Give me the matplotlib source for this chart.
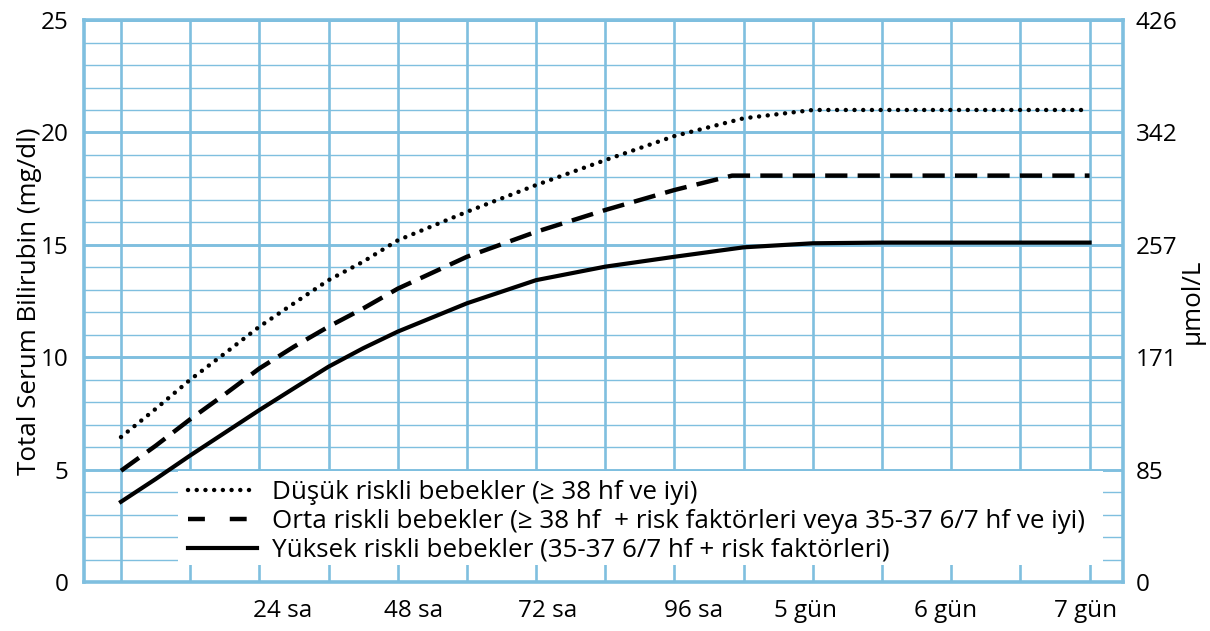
import matplotlib
matplotlib.use('Agg')
import matplotlib.pyplot as plt
from matplotlib.lines import Line2D
from matplotlib.patches import Rectangle

plt.rcParams['font.family'] = ['Open Sans', 'DejaVu Sans']

# hours after birth -> total serum bilirubin (mg/dl)
low_hours = [0, 6, 12, 18, 24, 30, 36, 42, 48, 60, 72, 84, 96, 108, 120, 132, 144, 156, 168]
low_tsb = [6.45, 7.7, 9.0, 10.17, 11.36, 12.4, 13.43, 14.25, 15.2, 16.47, 17.66, 18.77, 19.84, 20.63,
           21.0, 21.0, 21.0, 21.0, 21.0]

mid_hours = [0, 6, 12, 18, 24, 30, 36, 42, 48, 60, 72, 84, 96, 106, 120, 132, 144, 156, 168]
mid_tsb = [4.95, 6.06, 7.24, 8.35, 9.5, 10.47, 11.36, 12.17, 13.05, 14.47, 15.58, 16.55, 17.44, 18.08,
           18.08, 18.08, 18.08, 18.08, 18.08]

high_hours = [0, 6, 12, 18, 24, 30, 36, 42, 48, 60, 72, 84, 96, 108, 120, 132, 144, 156, 168]
high_tsb = [3.57, 4.58, 5.63, 6.64, 7.65, 8.62, 9.58, 10.4, 11.14, 12.4, 13.43, 14.03, 14.47, 14.89,
            15.07, 15.1, 15.1, 15.1, 15.1]

labels = ['Düşük riskli bebekler (≥ 38 hf ve iyi)',
          'Orta riskli bebekler (≥ 38 hf  + risk faktörleri veya 35-37 6/7 hf ve iyi)',
          'Yüksek riskli bebekler (35-37 6/7 hf + risk faktörleri)']

xtick_pos = [28.0, 50.7, 74.0, 99.4, 118.7, 143.1, 167.3]
xtick_labels = ['24 sa', '48 sa', '72 sa', '96 sa', '5 gün', '6 gün', '7 gün']
grid_hours = list(range(0, 169, 12))

mg_ticks = [0, 5, 10, 15, 20, 25]
umol_labels = ['0', '85', '171', '257', '342', '426']

blue = '#7fbfdf'
fs = 17.5
fs_big = 18.7

fig = plt.figure(figsize=(12.1, 6.31), dpi=100)
ax = fig.add_axes([0.0694, 0.0776, 0.8587, 0.8906])

ax.set_xlim(-6.42, 173.8)
ax.set_ylim(0, 25)

# grid
ax.set_axisbelow(True)
ax.set_xticks(grid_hours, minor=True)
ax.set_xticks(xtick_pos)
ax.set_xticklabels(xtick_labels)
ax.set_yticks(mg_ticks)
ax.set_yticks(range(0, 26), minor=True)
ax.xaxis.grid(True, which='minor', color=blue, lw=1.9)
ax.yaxis.grid(True, which='minor', color=blue, lw=1.0)
ax.yaxis.grid(True, which='major', color=blue, lw=2.1)
ax.tick_params(which='both', length=0)
ax.tick_params(axis='y', pad=11, labelsize=fs)
ax.tick_params(axis='x', pad=12, labelsize=fs)
for s in ax.spines.values():
    s.set_color(blue)
    s.set_linewidth(2.6)

# white box behind the legend
ax.add_patch(Rectangle((9.9, 0.75), 160.5, 4.19, facecolor='white', edgecolor='none', zorder=1))

dot_style = dict(color='black', lw=3.2, dashes=(0.01, 1.95), dash_capstyle='round')
dash_style = dict(color='black', lw=3.2, dashes=(5.0, 2.3), dash_capstyle='butt')
ax.plot(low_hours, low_tsb, zorder=3, **dot_style)
ax.plot(mid_hours, mid_tsb, zorder=3, **dash_style)
ax.plot(high_hours, high_tsb, color='black', lw=3.0, zorder=3)

handles = [Line2D([], [], color='black', lw=3.2, dashes=(0.01, 1.95), dash_capstyle='round'),
           Line2D([], [], color='black', lw=3.2, dashes=(3.8, 5.6), dash_capstyle='butt'),
           Line2D([], [], color='black', lw=3.0)]
leg = ax.legend(handles, labels, loc='upper left', bbox_to_anchor=(0.100, 0.1815),
                frameon=False, fontsize=fs_big, handlelength=2.65, handletextpad=0.58,
                labelspacing=0.15, borderpad=0, borderaxespad=0)
leg.set_zorder(4)

ax.set_ylabel('Total Serum Bilirubin (mg/dl)', fontsize=fs_big, labelpad=-1)
ax.set_xlabel('Yaş', fontsize=fs)
ax.xaxis.set_label_coords(0.516, -0.115)

ax2 = ax.twinx()
ax2.set_ylim(0, 25)
ax2.set_yticks(mg_ticks)
ax2.set_yticklabels(umol_labels)
ax2.tick_params(length=0, pad=9, labelsize=fs)
for s in ax2.spines.values():
    s.set_visible(False)
ax2.set_ylabel('µmol/L', fontsize=fs_big, rotation=90, labelpad=2)

fig.savefig('out.png', dpi=100)
